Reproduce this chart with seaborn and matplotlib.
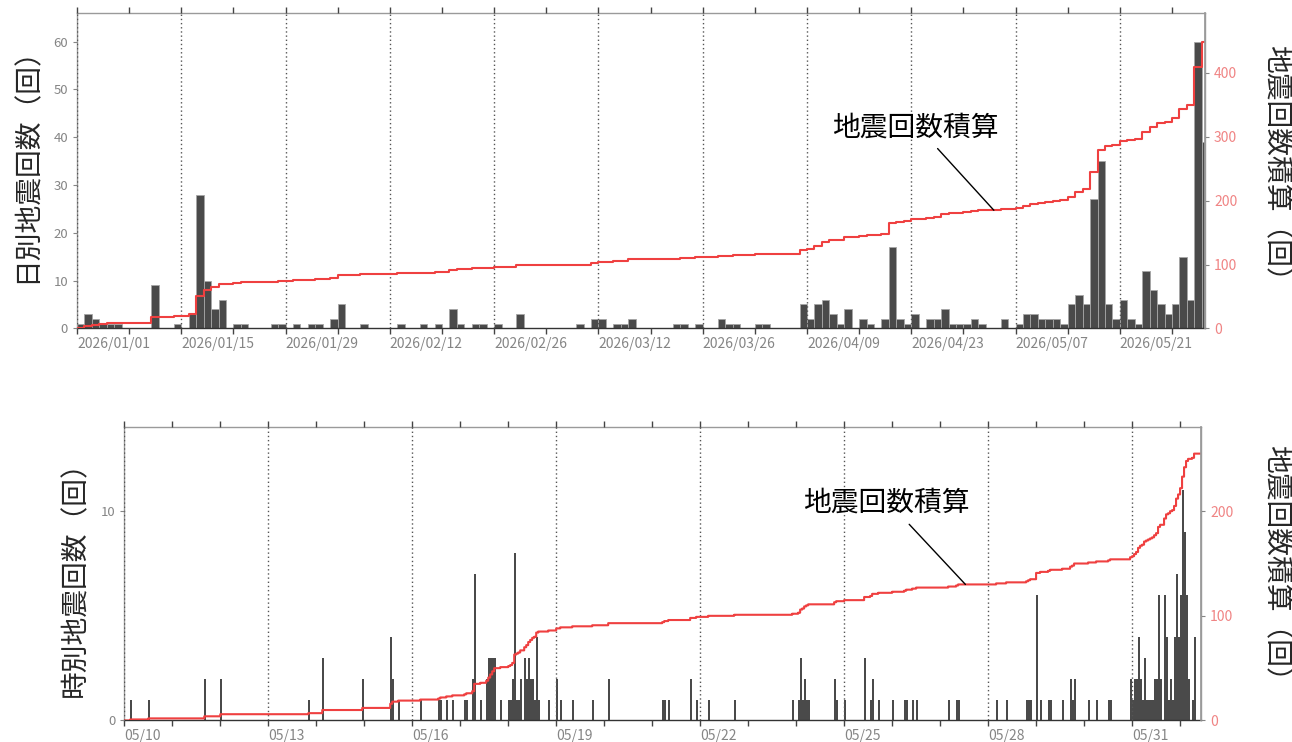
import numpy as np
import pandas as pd
import matplotlib
matplotlib.use("Agg")
import matplotlib.pyplot as plt
import matplotlib.dates as mdates
from matplotlib.ticker import FixedLocator
import seaborn as sns

# ---- daily counts (days with at least one event) ----
daily_dates = [
    "2026-01-01", "2026-01-02", "2026-01-03", "2026-01-04", "2026-01-05", "2026-01-06",
    "2026-01-11", "2026-01-14", "2026-01-16", "2026-01-17", "2026-01-18", "2026-01-19",
    "2026-01-20", "2026-01-22", "2026-01-23", "2026-01-27", "2026-01-28", "2026-01-30",
    "2026-02-01", "2026-02-02", "2026-02-04", "2026-02-05", "2026-02-08", "2026-02-13",
    "2026-02-16", "2026-02-18", "2026-02-20", "2026-02-21", "2026-02-23", "2026-02-24",
    "2026-02-26", "2026-03-01", "2026-03-09", "2026-03-11", "2026-03-12", "2026-03-14",
    "2026-03-15", "2026-03-16", "2026-03-22", "2026-03-23", "2026-03-25", "2026-03-28",
    "2026-03-29", "2026-03-30", "2026-04-02", "2026-04-03", "2026-04-08", "2026-04-09",
    "2026-04-10", "2026-04-11", "2026-04-12", "2026-04-13", "2026-04-14", "2026-04-16",
    "2026-04-17", "2026-04-19", "2026-04-20", "2026-04-21", "2026-04-22", "2026-04-23",
    "2026-04-25", "2026-04-26", "2026-04-27", "2026-04-28", "2026-04-29", "2026-04-30",
    "2026-05-01", "2026-05-02", "2026-05-05", "2026-05-07", "2026-05-08", "2026-05-09",
    "2026-05-10", "2026-05-11", "2026-05-12", "2026-05-13", "2026-05-14", "2026-05-15",
    "2026-05-16", "2026-05-17", "2026-05-18", "2026-05-19", "2026-05-20", "2026-05-21",
    "2026-05-22", "2026-05-23", "2026-05-24", "2026-05-25", "2026-05-26", "2026-05-27",
    "2026-05-28", "2026-05-29", "2026-05-30", "2026-05-31", "2026-06-01",
]
daily_counts = [
    1, 3, 2, 1, 1, 1,
    9, 1, 3, 28, 10, 4,
    6, 1, 1, 1, 1, 1,
    1, 1, 2, 5, 1, 1,
    1, 1, 4, 1, 1, 1,
    1, 3, 1, 2, 2, 1,
    1, 2, 1, 1, 1, 2,
    1, 1, 1, 1, 5, 2,
    5, 6, 3, 1, 4, 2,
    1, 2, 17, 2, 1, 3,
    2, 2, 4, 1, 1, 1,
    2, 1, 2, 1, 3, 3,
    2, 2, 2, 1, 5, 7,
    5, 27, 35, 5, 2, 6,
    2, 1, 12, 8, 5, 3,
    5, 15, 6, 60, 39,
]

# ---- hourly counts since 05/10 (hours with at least one event) ----
hourly_times = [
    "05-10 03", "05-10 12", "05-11 16", "05-12 00", "05-13 20", "05-14 03", "05-14 23",
    "05-15 13", "05-15 14", "05-15 17",
    "05-16 04", "05-16 13", "05-16 14", "05-16 17", "05-16 20",
    "05-17 02", "05-17 03", "05-17 06", "05-17 07", "05-17 10", "05-17 13", "05-17 14",
    "05-17 15", "05-17 16", "05-17 17", "05-17 20",
    "05-18 00", "05-18 01", "05-18 02", "05-18 03", "05-18 04", "05-18 05", "05-18 06",
    "05-18 08", "05-18 09", "05-18 10", "05-18 11", "05-18 12", "05-18 13", "05-18 14",
    "05-18 15", "05-18 20",
    "05-19 00", "05-19 02", "05-19 08", "05-19 18", "05-20 02",
    "05-21 05", "05-21 06", "05-21 08", "05-21 19", "05-21 22",
    "05-22 04", "05-22 17", "05-23 22",
    "05-24 01", "05-24 02", "05-24 03", "05-24 04", "05-24 05", "05-24 06", "05-24 19",
    "05-24 20",
    "05-25 00", "05-25 10", "05-25 13", "05-25 14", "05-25 17",
    "05-26 00", "05-26 06", "05-26 07", "05-26 10", "05-26 12",
    "05-27 04", "05-27 08", "05-27 09",
    "05-28 04", "05-28 09", "05-28 19", "05-28 20", "05-28 21",
    "05-29 00", "05-29 02", "05-29 06", "05-29 07", "05-29 13", "05-29 17", "05-29 18",
    "05-29 19",
    "05-30 02", "05-30 06", "05-30 12", "05-30 13", "05-30 23",
    "05-31 00", "05-31 01", "05-31 02", "05-31 03", "05-31 04", "05-31 05", "05-31 06",
    "05-31 07", "05-31 08", "05-31 09", "05-31 10", "05-31 11", "05-31 12", "05-31 13",
    "05-31 14", "05-31 16", "05-31 17", "05-31 18", "05-31 19", "05-31 20",
    "05-31 21", "05-31 22", "05-31 23",
    "06-01 00", "06-01 01", "06-01 02", "06-01 03", "06-01 04", "06-01 06", "06-01 07",
]
hourly_counts = [
    1, 1, 2, 2, 1, 3, 2,
    4, 2, 1,
    1, 1, 1, 1, 1,
    1, 1, 2, 7, 1, 2, 3,
    3, 3, 3, 1,
    1, 1, 2, 8, 1, 1, 2,
    3, 2, 3, 2, 2, 1, 4,
    1, 1,
    2, 1, 1, 1, 2,
    1, 1, 1, 2, 1,
    1, 1, 1,
    1, 3, 1, 2, 1, 1, 2,
    1,
    1, 3, 1, 2, 1,
    1, 1, 1, 1, 1,
    1, 1, 1,
    1, 1, 1, 1, 1,
    6, 1, 1, 1, 1, 2, 1,
    2,
    1, 1, 1, 1, 2,
    1, 2, 2, 4, 2, 1, 3,
    1, 1, 1, 1, 2, 2, 6,
    2, 6, 4, 1, 2, 1,
    4, 7, 4,
    6, 11, 9, 6, 2, 1, 4,
]

CUM_LABEL = "地震回数積算"
DAILY_YLABEL = "日別地震回数（回）"
HOURLY_YLABEL = "時別地震回数（回）"
CUM_YLABEL = "地震回数積算（回）"

# ---- styling ----
sns.set_theme(style="white")
plt.rcParams["font.family"] = ["Noto Sans CJK JP", "DejaVu Sans"]
plt.rcParams["axes.unicode_minus"] = False

BAR_COLOR = "#4a4a4a"
LINE_COLOR = "#ef4040"
TICK_GRAY = "#858585"
TICK_PINK = "#f08484"
SPINE_GRAY = "#9a9a9a"
GRID_KW = dict(color="#555555", linestyle=(0, (1, 2)), linewidth=1.0)
LABEL_SIZE = 20

top_start = pd.Timestamp("2026-01-01")
bottom_start = pd.Timestamp("2026-05-10")
view_end = pd.Timestamp("2026-06-01 10:30")

# full daily / hourly series
day_index = pd.date_range(top_start, "2026-06-01", freq="D")
daily = pd.Series(daily_counts, index=pd.to_datetime(daily_dates)).reindex(day_index, fill_value=0)
hour_index = pd.date_range(bottom_start, "2026-06-01 09:00", freq="h")
hourly = pd.Series(
    hourly_counts, index=pd.to_datetime(["2026-" + t + ":00" for t in hourly_times])
).reindex(hour_index, fill_value=0)

fig = plt.figure(figsize=(12.92, 7.42), dpi=100)
ax_top = fig.add_axes([0.0596, 0.5575, 0.8731, 0.4249])
ax_bot = fig.add_axes([0.0962, 0.0290, 0.8334, 0.3956])


def draw_panel(ax, series, width_days, edge_kw, major, minor, fmt, ymax_left, yticks_left,
               yticks_right, note_xy_time, note_text_pos):
    start = mdates.date2num(series.index[0])
    # each count sits in the middle of its own day / hour bin
    frame = pd.DataFrame({"t": mdates.date2num(series.index) + width_days / 2,
                          "n": series.values.astype(float)})
    sns.histplot(data=frame, x="t", weights="n", binwidth=width_days,
                 binrange=(start, start + len(series) * width_days),
                 ax=ax, color=BAR_COLOR, alpha=1.0, **edge_kw)
    ax.set_xlabel("")
    ax.set_ylabel("")
    ax.set_xlim(start, mdates.date2num(view_end))
    ax.set_ylim(0, ymax_left)
    ax.set_yticks(yticks_left)
    ax.xaxis.set_major_locator(FixedLocator(mdates.date2num(major)))
    ax.xaxis.set_minor_locator(FixedLocator(mdates.date2num(minor)))
    ax.xaxis.set_major_formatter(mdates.DateFormatter(fmt))
    for lab in ax.get_xticklabels():
        lab.set_ha("left")
    ax.tick_params(axis="x", which="both", direction="out", length=4, width=1,
                   color="#444444", top=True, bottom=True, labelsize=10,
                   labelcolor=TICK_GRAY, pad=2)
    ax.tick_params(axis="y", which="both", direction="out", length=3, width=0.8,
                   color=TICK_GRAY, left=True, labelsize=9.5, labelcolor=TICK_GRAY)
    ax.grid(False)
    ax.grid(True, axis="x", which="major", **GRID_KW)
    ax.set_axisbelow(False)
    for side in ("top", "left", "right"):
        ax.spines[side].set_color(SPINE_GRAY)
        ax.spines[side].set_linewidth(1.0)
    ax.spines["bottom"].set_color("#333333")
    ax.spines["bottom"].set_linewidth(1.0)

    # cumulative count on the secondary axis
    cum = series.cumsum()
    cx = list(cum.index) + [view_end]
    cy = list(cum.values) + [cum.values[-1]]
    ax2 = ax.twinx()
    sns.lineplot(x=mdates.date2num(cx), y=cy, ax=ax2, color=LINE_COLOR, linewidth=1.5,
                 drawstyle="steps-post", legend=False)
    total = cum.values[-1]
    ax2.set_ylim(0, total * 1.1)
    ax2.set_yticks(yticks_right)
    ax2.set_xlim(ax.get_xlim())
    ax2.tick_params(axis="y", direction="out", length=3, width=0.8, color=TICK_GRAY,
                    right=True, labelsize=10, labelcolor=TICK_PINK)
    ax2.grid(False)
    for side in ("top", "left", "right", "bottom"):
        ax2.spines[side].set_visible(side == "right")
    ax2.spines["right"].set_color(SPINE_GRAY)

    t = pd.Timestamp(note_xy_time)
    y_note = cum[cum.index <= t].values[-1]
    ax2.annotate(CUM_LABEL, xy=(mdates.date2num(t), y_note), xycoords="data",
                 xytext=note_text_pos, textcoords="axes fraction",
                 ha="center", va="center", fontsize=20, color="black",
                 arrowprops=dict(arrowstyle="-", color="black", lw=1.0,
                                 relpos=(0.6, 0.0), shrinkA=3, shrinkB=0))
    return ax2


draw_panel(
    ax_top, daily, 1.0,
    dict(edgecolor="#a6a6a6", linewidth=0.6),
    pd.date_range("2026-01-01", periods=11, freq="14D"),
    pd.date_range("2026-01-08", periods=11, freq="14D"),
    "%Y/%m/%d", 66, [0, 10, 20, 30, 40, 50, 60], [0, 100, 200, 300, 400],
    "2026-05-04 02:00", (0.743, 0.638),
)
draw_panel(
    ax_bot, hourly, 1.0 / 24,
    dict(edgecolor="none", linewidth=0),
    pd.date_range("2026-05-10", periods=8, freq="3D"),
    pd.date_range("2026-05-10", periods=23, freq="D"),
    "%m/%d", 14, [0, 10], [0, 100, 200],
    "2026-05-27 12:40", (0.708, 0.741),
)

fig.text(26 / 1292, 1 - 158 / 742, DAILY_YLABEL, rotation=90, ha="center", va="center",
         fontsize=LABEL_SIZE)
fig.text(1276 / 1292, 1 - 170 / 742, CUM_YLABEL, rotation=270, ha="center", va="center",
         fontsize=LABEL_SIZE)
fig.text(75 / 1292, 1 - 572 / 742, HOURLY_YLABEL, rotation=90, ha="center", va="center",
         fontsize=LABEL_SIZE)
fig.text(1276 / 1292, 1 - 570 / 742, CUM_YLABEL, rotation=270, ha="center", va="center",
         fontsize=LABEL_SIZE)

fig.savefig("out.png", dpi=100)
